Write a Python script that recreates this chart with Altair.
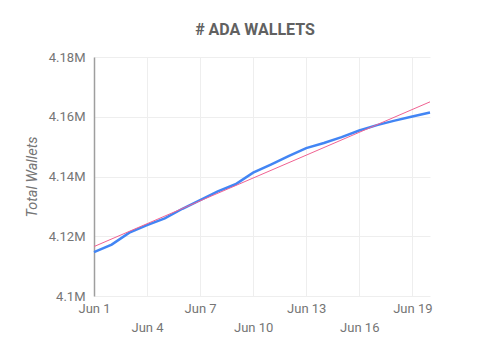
import altair as alt
import pandas as pd

dates = [f"2022-06-{d:02d}T00:00:00" for d in range(1, 21)]
wallets = [4114700, 4117200, 4121200, 4123700, 4126000, 4129200, 4132100,
           4135000, 4137400, 4141300, 4144000, 4146800, 4149500, 4151200,
           4153200, 4155400, 4157200, 4158700, 4160100, 4161400]
y_ticks = [4100000, 4110000, 4120000, 4130000, 4140000, 4150000, 4160000,
           4170000, 4180000]
x_tick_days = [1, 4, 7, 10, 13, 16, 19]

df = pd.DataFrame({"date": dates, "wallets": wallets})

FONT = "Roboto"
LABEL = "#757575"

x_enc = alt.X(
    "date:T",
    scale=alt.Scale(domain=[alt.DateTime(year=2022, month=6, date=1),
                            alt.DateTime(year=2022, month=6, date=20)]),
    axis=alt.Axis(
        title=None,
        values=[alt.DateTime(year=2022, month=6, date=d) for d in x_tick_days],
        format="%b %-d",
        labelExpr="((date(datum.value) - 1) / 3) % 2 == 1 ? ['', datum.label] : datum.label",
        labelLineHeight=19,
        domain=False,
        ticks=False,
        labelPadding=6,
        labelFont=FONT,
        labelFontSize=13,
        labelColor=LABEL,
        gridColor="#eeeeee",
        labelFlush=False,
    ),
)
y_enc = alt.Y(
    "wallets:Q",
    scale=alt.Scale(domain=[4100000, 4180000], nice=False, zero=False),
    axis=alt.Axis(
        title="Total Wallets",
        values=y_ticks,
        format="~s",
        labelExpr="round(datum.value / 10000) % 2 == 0 ? datum.label : ''",
        domainColor="#9e9e9e",
        domainWidth=1.5,
        ticks=False,
        labelPadding=9,
        labelFont=FONT,
        labelFontSize=13,
        labelColor=LABEL,
        titleFont=FONT,
        titleFontSize=14.5,
        titleFontStyle="italic",
        titleFontWeight="normal",
        titleColor=LABEL,
        titlePadding=9,
        gridColor="#eeeeee",
    ),
)

base = alt.Chart(df)
line = base.mark_line(color="#4285F4", strokeWidth=2.5).encode(x=x_enc, y=y_enc)
trend = base.mark_line(color="#F06292", strokeWidth=1).transform_regression(
    "date", "wallets", method="linear"
).encode(x="date:T", y="wallets:Q")

chart = alt.layer(line, trend).properties(
    width=336,
    height=239,
    autosize=alt.AutoSizeParams(type="none"),
    padding={"left": 94, "top": 57, "right": 65, "bottom": 56},
    title=alt.TitleParams(
        "# ADA WALLETS",
        font=FONT,
        fontSize=16,
        fontWeight="bold",
        color="#616161",
        anchor="middle",
        dx=-7,
        offset=13,
    ),
).configure_view(stroke=None)

chart.save("out.html", embed_options={"renderer": "svg", "actions": False})
